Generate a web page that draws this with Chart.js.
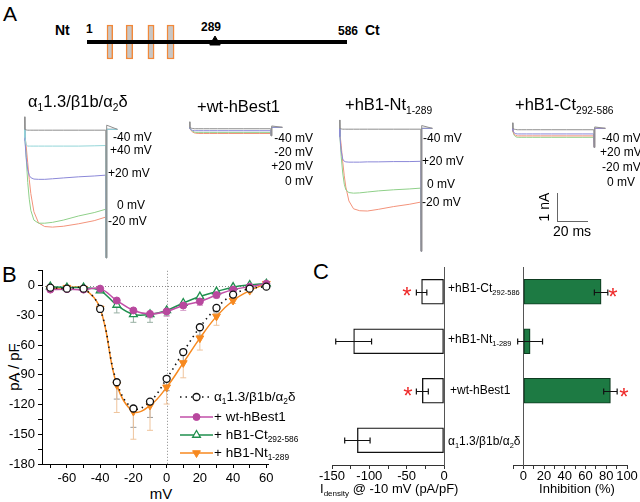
<!DOCTYPE html>
<html>
<head>
<meta charset="utf-8">
<script src="https://cdn.jsdelivr.net/npm/chart.js@4.4.0/dist/chart.umd.min.js"></script>
<style>
  html, body { margin: 0; padding: 0; background: #fff; overflow: hidden; }
  #fig { position: relative; width: 640px; height: 502px; overflow: hidden;
         font-family: "Liberation Sans", Arial, Helvetica, sans-serif; color: #000; }
  #fig canvas { position: absolute; }
  .t { position: absolute; white-space: nowrap; line-height: 1; }
  .t sub { font-size: 0.62em; vertical-align: -0.35em; line-height: 0; }
  .bar { position: absolute; background: #666; }
</style>
</head>
<body>
<div id="fig"></div>
<script>
// ---- panel A: protein diagram (residues) ----
const protLen = [1, 586];
const tmStart = [46, 89, 138, 181];
const tmEnd = [59, 104, 152, 197];
const cleaveSite = 289;

// ---- panel A: current traces (time in ms, current in nA) ----
const traceT = [0, 0.2, 1, 2, 3, 4, 6, 9, 13, 18, 25, 35, 45, 52.5, 52.7, 53.1, 60];
// alpha1 1.3 / beta1b / alpha2delta
const ctrlM40 = [0.45, 0, -0.02, -0.03, -0.03, -0.03, -0.03, -0.03, -0.03, -0.03, -0.03, -0.03, -0.03, -0.03, -4.6, 0.15, 0];
const ctrlP40 = [0, -0.3, -0.55, -0.6, -0.6, -0.6, -0.6, -0.6, -0.6, -0.6, -0.6, -0.6, -0.59, -0.58, -4.6, 0, 0];
const ctrlP20 = [0, -0.4, -1.0, -1.45, -1.65, -1.73, -1.78, -1.79, -1.79, -1.77, -1.74, -1.7, -1.67, -1.64, -4.6, 0, 0];
const ctrlZ0 = [0, -0.3, -1.0, -1.9, -2.5, -2.9, -3.25, -3.36, -3.36, -3.33, -3.25, -3.1, -2.98, -2.86, -4.6, 0, 0];
const ctrlM20 = [0, -0.2, -0.6, -1.2, -1.8, -2.3, -2.95, -3.35, -3.48, -3.5, -3.47, -3.38, -3.27, -3.14, -4.6, 0, 0];
// + wt-hBest1
const wtM40 = [0.2, 0, -0.03, -0.04, -0.05, -0.05, -0.05, -0.05, -0.05, -0.05, -0.05, -0.05, -0.05, -0.05, -0.3, 0.05, 0];
const wtM20 = [0, -0.05, -0.12, -0.17, -0.2, -0.21, -0.22, -0.22, -0.22, -0.22, -0.22, -0.22, -0.22, -0.22, -0.3, 0, 0];
const wtP20 = [0, -0.04, -0.09, -0.11, -0.12, -0.12, -0.12, -0.12, -0.12, -0.12, -0.12, -0.12, -0.12, -0.12, -0.3, 0, 0];
const wtZ0 = [0, -0.05, -0.1, -0.14, -0.17, -0.18, -0.18, -0.18, -0.18, -0.18, -0.18, -0.18, -0.18, -0.18, -0.3, 0, 0];
// + hB1-Nt 1-289
const ntM40 = [0.3, 0, -0.02, -0.03, -0.03, -0.03, -0.03, -0.03, -0.03, -0.03, -0.03, -0.03, -0.03, -0.03, -4.4, 0.1, 0];
const ntP20 = [0, -0.3, -0.8, -1.1, -1.18, -1.2, -1.21, -1.21, -1.21, -1.2, -1.2, -1.19, -1.19, -1.18, -4.4, 0, 0];
const ntZ0 = [0, -0.3, -1.0, -1.6, -2.0, -2.2, -2.3, -2.32, -2.31, -2.28, -2.24, -2.2, -2.17, -2.14, -4.4, 0, 0];
const ntM20 = [0, -0.2, -0.6, -1.2, -1.7, -2.1, -2.6, -2.88, -2.95, -2.96, -2.9, -2.8, -2.72, -2.64, -4.4, 0, 0];
// + hB1-Ct 292-586
const ctM40 = [0.2, 0, -0.03, -0.04, -0.05, -0.05, -0.05, -0.05, -0.05, -0.05, -0.05, -0.05, -0.05, -0.05, -0.68, 0.05, 0];
const ctP20 = [0, -0.08, -0.16, -0.19, -0.2, -0.2, -0.2, -0.2, -0.2, -0.2, -0.2, -0.2, -0.2, -0.2, -0.68, 0, 0];
const ctM20 = [0, -0.1, -0.21, -0.25, -0.27, -0.27, -0.27, -0.27, -0.27, -0.27, -0.27, -0.27, -0.27, -0.27, -0.68, 0, 0];
const ctZ0 = [0, -0.12, -0.25, -0.3, -0.32, -0.32, -0.32, -0.32, -0.32, -0.32, -0.32, -0.32, -0.32, -0.32, -0.68, 0, 0];

// ---- panel B: I-V curves (pA/pF) ----
const mV = [-70, -60, -50, -40, -30, -20, -10, 0, 10, 20, 30, 40, 50, 60];
const ctrlDens = [-2, -3, -3, -23.5, -97.5, -124, -117, -94, -67, -42, -22.5, -9, -3, -1];
const ctrlErr = [1, 1, 1, 2, 17, 19, 16, 12, 10, 8, 5, 3, 2, 1];
const wtDens = [-4, -3.5, -4, -3, -15, -25, -28.5, -26, -20, -16, -9.5, -4, -1, 2];
const wtErr = [1, 1, 1, 1, 3, 3, 4, 5, 5, 4, 3, 2, 1, 1];
const ctDens = [-1, -2, -2, -5, -19.5, -29, -29, -25, -17.5, -11, -6, -1.5, 0.7, 2];
const ctErr = [1, 1, 1, 2, 8, 8, 8, 5, 4, 3, 3, 2, 1, 1];
const ntDens = [-3, -2, -3, -23, -100, -127, -121, -102.5, -78, -53, -31, -15, -5, 2];
const ntErr = [1, 1, 1, 2, 28, 28, 25, 17, 15, 12, 9, 3, 2, 1];
const bXTicks = [-70, -60, -50, -40, -30, -20, -10, 0, 10, 20, 30, 40, 50, 60];
const bYTicks = [-180, -165, -150, -135, -120, -105, -90, -75, -60, -45, -30, -15, 0, 15];

// ---- panel C: peak density at -10 mV and inhibition ----
const groups = ['+hB1-Ct292-586', '+hB1-Nt1-289', '+wt-hBest1', 'a1 1.3/b1b/a2d'];
const peakDens = [-30, -121, -29, -116];
const peakErr = [7, 24, 8, 17];
const inhib = [75, 6.5, 84, 0];
const inhibErr = [6.5, 12, 6.5, 0];
const densTicks = [-150, -125, -100, -75, -50, -25, 0];
const inhibTicks = [-10, 0, 10, 20, 30, 40, 50, 60, 70, 80, 90, 100];

// ---------------------------------------------------------------
const FONT = '"Liberation Sans", Arial, Helvetica, sans-serif';
Chart.defaults.font.family = FONT;
Chart.defaults.color = '#000';
Chart.defaults.animation = false;
Chart.defaults.responsive = false;
Chart.defaults.layout.autoPadding = false;
Chart.defaults.plugins.legend.display = false;
Chart.defaults.plugins.tooltip.enabled = false;

const fig = document.getElementById('fig');

function canvasAt(left, top, w, h) {
  const c = document.createElement('canvas');
  c.width = Math.round(w);
  c.height = Math.round(h);
  c.style.left = left + 'px';
  c.style.top = top + 'px';
  fig.appendChild(c);
  return c;
}

// y is the vertical centre of the capitals
function text(html, x, y, size, opt = {}) {
  const d = document.createElement('div');
  d.className = 't';
  d.innerHTML = html;
  d.style.fontSize = size + 'px';
  d.style.left = x + 'px';
  d.style.top = (y - 0.49 * size) + 'px';
  if (opt.bold) d.style.fontWeight = 'bold';
  if (opt.color) d.style.color = opt.color;
  if (opt.align === 'right') d.style.transform = 'translateX(-100%)';
  if (opt.align === 'center') d.style.transform = 'translateX(-50%)';
  if (opt.rotate) {
    d.style.top = y + 'px';
    d.style.transform = 'translate(-50%,-50%) rotate(-90deg)';
  }
  fig.appendChild(d);
  return d;
}

function star(cx, cy) {
  const s = 24;
  const d = text('*', cx - 0.195 * s, 0, s, {color: '#ee2a2a'});
  d.style.top = (cy - 0.3 * s) + 'px';
}

const fixedTicks = arr => s => { s.ticks = arr.map(v => ({value: v})); };

const CTRL_HTML = '&alpha;<sub>1</sub>1.3/&beta;1b/&alpha;<sub>2</sub>&delta;';

// ---------------- panel A : diagram ----------------
text('A', 3, 13, 21);
text('Nt', 55, 30, 14, {bold: true});
text('1', 86, 29, 12, {bold: true});
text('289', 211, 27, 12, {bold: true, align: 'center'});
text('586', 338, 31, 12, {bold: true});
text('Ct', 365, 30, 14, {bold: true});

new Chart(canvasAt(87, 22, 260, 40), {
  type: 'bar',
  data: {
    labels: ['hBest1'],
    datasets: [
      ...tmStart.map((s, i) => ({
        indexAxis: 'y', data: [[s, tmEnd[i]]], backgroundColor: '#c9c6c4',
        borderColor: '#f2893a', borderWidth: 1.5, borderSkipped: false,
        barThickness: 34, grouped: false, clip: false, order: 2
      })),
      { indexAxis: 'y', data: [protLen], backgroundColor: '#000', barThickness: 3.5,
        grouped: false, clip: false, order: 1 },
      { type: 'scatter', data: [{x: cleaveSite, y: 'hBest1'}], pointStyle: 'triangle',
        pointRadius: 6, backgroundColor: '#000', borderColor: '#000', clip: false, order: 0 }
    ]
  },
  options: {
    layout: {padding: 0},
    scales: {
      x: {type: 'linear', display: false, offset: false, min: protLen[0], max: protLen[1]},
      y: {type: 'category', display: false, offset: true}
    }
  }
});

// ---------------- panel A : traces ----------------
const PX_MS = 1.55, PX_NA = 28;
const T_MIN = -3, T_MAX = 63, I_MIN = -5, I_MAX = 0.8;
const C_M40 = '#8e8e8e', C_P40 = '#93d5d8', C_P20 = '#8b88d8', C_Z0 = '#8fd089', C_M20 = '#f3937b';

function traceChart(x0, y0, series) {
  const c = canvasAt(x0 + T_MIN * PX_MS, y0 - I_MAX * PX_NA,
    (T_MAX - T_MIN) * PX_MS, (I_MAX - I_MIN) * PX_NA);
  new Chart(c, {
    type: 'scatter',
    data: {
      datasets: series.map(s => ({
        data: traceT.map((t, i) => ({x: t, y: s[0][i]})),
        showLine: true, borderColor: s[1], borderWidth: 1, pointRadius: 0, tension: 0
      }))
    },
    options: {
      layout: {padding: 0},
      scales: {
        x: {display: false, min: T_MIN, max: T_MAX},
        y: {display: false, min: I_MIN, max: I_MAX}
      }
    }
  });
}

traceChart(25, 129, [[ctrlM40, C_M40], [ctrlP40, C_P40], [ctrlP20, C_P20], [ctrlZ0, C_Z0], [ctrlM20, C_M20]]);
traceChart(190, 127, [[wtM40, C_M40], [wtP20, C_P20], [wtZ0, C_Z0], [wtM20, C_M20]]);
traceChart(340, 128, [[ntM40, C_M40], [ntP20, C_P20], [ntZ0, C_Z0], [ntM20, C_M20]]);
traceChart(513, 128, [[ctM40, C_M40], [ctP20, C_P20], [ctM20, C_M20], [ctZ0, C_Z0]]);

text(CTRL_HTML, 28, 101.5, 16.5);
text('+wt-hBest1', 197, 106, 16.5);
text('+hB1-Nt<sub>1-289</sub>', 345, 104.5, 16.5);
text('+hB1-Ct<sub>292-586</sub>', 515, 104.5, 16.5);

text('-40 mV', 113, 137, 12);
text('+40 mV', 110, 150, 12);
text('+20 mV', 108, 173, 12);
text('0 mV', 117, 205, 12);
text('-20 mV', 108, 221, 12);

text('-40 mV', 313, 138, 12, {align: 'right'});
text('-20 mV', 313, 152, 12, {align: 'right'});
text('+20 mV', 313, 166, 12, {align: 'right'});
text('0 mV', 313, 181, 12, {align: 'right'});

text('-40 mV', 423, 138, 12);
text('+20 mV', 422, 161, 12);
text('0 mV', 427, 184, 12);
text('-20 mV', 422, 202, 12);

text('-40 mV', 602, 138, 12);
text('+20 mV', 600, 152, 12);
text('-20 mV', 602, 167, 12);
text('0 mV', 607, 182, 12);

// scale bar: 1 nA / 20 ms
(function () {
  const v = document.createElement('div');
  v.className = 'bar';
  v.style.left = '557px'; v.style.top = (221 - PX_NA) + 'px';
  v.style.width = '1px'; v.style.height = PX_NA + 'px';
  fig.appendChild(v);
  const h = document.createElement('div');
  h.className = 'bar';
  h.style.left = '557px'; h.style.top = '221px';
  h.style.width = (20 * PX_MS) + 'px'; h.style.height = '1px';
  fig.appendChild(h);
})();
text('1 nA', 544, 207, 14, {rotate: true});
text('20 ms', 553, 231, 14);

// ---------------- panel B ----------------
text('B', 2, 275, 22);
text('pA / pF', 13, 367, 15, {rotate: true});
text('mV', 161, 493, 15, {align: 'center'});

const B_TOP = 260;
const xy = vals => mV.map((x, i) => ({x: x, y: vals[i]}));

const zeroLines = {
  id: 'zeroLines',
  beforeDatasetsDraw(chart) {
    const {ctx, chartArea: a, scales: {x, y}} = chart;
    const px = Math.round(x.getPixelForValue(0)) + 0.5;
    const py = Math.round(y.getPixelForValue(0)) + 0.5;
    ctx.save();
    ctx.strokeStyle = '#888';
    ctx.lineWidth = 1;
    ctx.setLineDash([1, 2]);
    ctx.beginPath();
    ctx.moveTo(a.left, py); ctx.lineTo(a.right, py);
    ctx.moveTo(px, a.top); ctx.lineTo(px, a.bottom);
    ctx.stroke();
    ctx.restore();
  }
};

const vErr = {
  id: 'vErr',
  beforeDatasetsDraw(chart) {
    const ctx = chart.ctx, ys = chart.scales.y;
    chart.data.datasets.forEach((ds, i) => {
      const meta = chart.getDatasetMeta(i);
      ctx.save();
      ctx.strokeStyle = ds.errorColor;
      ctx.lineWidth = 1;
      meta.data.forEach((pt, j) => {
        const yEnd = ys.getPixelForValue(ds.data[j].y - ds.errors[j]);
        ctx.beginPath();
        ctx.moveTo(pt.x, pt.y); ctx.lineTo(pt.x, yEnd);
        ctx.moveTo(pt.x - 3, yEnd); ctx.lineTo(pt.x + 3, yEnd);
        ctx.stroke();
      });
      ctx.restore();
    });
  }
};

function marker(ctx, ds, x, y) {
  const r = ds.pointRadius;
  ctx.fillStyle = ds.pointBackgroundColor;
  ctx.strokeStyle = ds.pointBorderColor;
  ctx.lineWidth = ds.pointBorderWidth;
  ctx.beginPath();
  if (ds.pointStyle === 'circle') {
    ctx.arc(x, y, r, 0, Math.PI * 2);
  } else {
    const s = ds.pointRotation ? -1 : 1;
    ctx.moveTo(x, y - s * r);
    ctx.lineTo(x + r * 0.866, y + s * r / 2);
    ctx.lineTo(x - r * 0.866, y + s * r / 2);
    ctx.closePath();
  }
  ctx.fill();
  ctx.stroke();
}

const bLegend = {
  id: 'bLegend',
  afterDraw(chart) {
    const ctx = chart.ctx;
    const rows = [397, 417, 435, 453].map(y => y - B_TOP);
    chart.data.datasets.forEach((ds, i) => {
      const y = rows[i];
      ctx.save();
      ctx.strokeStyle = ds.borderColor;
      ctx.lineWidth = ds.borderWidth;
      ctx.setLineDash(ds.borderDash || []);
      ctx.beginPath();
      ctx.moveTo(180, y); ctx.lineTo(213, y);
      ctx.stroke();
      ctx.setLineDash([]);
      marker(ctx, ds, 196.5, y);
      ctx.restore();
    });
  }
};

new Chart(canvasAt(0, B_TOP, 280, 242), {
  type: 'scatter',
  data: {
    datasets: [
      { data: xy(ctrlDens), errors: ctrlErr, errorColor: '#9a9a9a',
        showLine: true, borderColor: '#111', borderWidth: 1.6, borderDash: [1.5, 4], tension: 0.4,
        pointStyle: 'circle', pointRadius: 3.5, pointBackgroundColor: '#fff',
        pointBorderColor: '#111', pointBorderWidth: 1.3, clip: false },
      { data: xy(wtDens), errors: wtErr, errorColor: '#d8a2cc',
        showLine: true, borderColor: '#c24fa8', borderWidth: 1.5, tension: 0.4,
        pointStyle: 'circle', pointRadius: 3.5, pointBackgroundColor: '#b8489e',
        pointBorderColor: '#b8489e', pointBorderWidth: 1, clip: false },
      { data: xy(ctDens), errors: ctErr, errorColor: '#98b0a4',
        showLine: true, borderColor: '#1f8f4e', borderWidth: 1.5, tension: 0.4,
        pointStyle: 'triangle', pointRadius: 4.5, pointBackgroundColor: '#fff',
        pointBorderColor: '#1f8f4e', pointBorderWidth: 1.3, clip: false },
      { data: xy(ntDens), errors: ntErr, errorColor: '#efc49c',
        showLine: true, borderColor: '#f7891f', borderWidth: 1.5, tension: 0.4,
        pointStyle: 'triangle', pointRotation: 180, pointRadius: 4.5, pointBackgroundColor: '#f7891f',
        pointBorderColor: '#f7891f', pointBorderWidth: 1, clip: false }
    ]
  },
  options: {
    layout: {padding: {top: 9, right: 12, left: 0, bottom: 0}},
    scales: {
      x: {
        type: 'linear', min: -75, max: 61,
        afterBuildTicks: fixedTicks(bXTicks),
        afterFit: s => { s.height = 38; },
        ticks: { autoSkip: false, maxRotation: 0, padding: 3, font: {size: 13},
                 callback: v => (v % 20 === 0 ? String(v) : '') },
        grid: { drawOnChartArea: false, tickLength: 4, color: '#000' },
        border: { color: '#000', width: 1 }
      },
      y: {
        type: 'linear', min: -180, max: 15,
        afterBuildTicks: fixedTicks(bYTicks),
        afterFit: s => { s.width = 42; },
        ticks: { autoSkip: false, padding: 3, font: {size: 13},
                 callback: v => (v % 30 === 0 ? String(v) : '') },
        grid: { drawOnChartArea: false, tickLength: 4, color: '#000' },
        border: { color: '#000', width: 1 }
      }
    }
  },
  plugins: [zeroLines, vErr, bLegend]
});

text(CTRL_HTML, 214, 397, 13.5);
text('+ wt-hBest1', 214, 417, 13.5);
text('+ hB1-Ct<sub>292-586</sub>', 214, 435, 13.5);
text('+ hB1-Nt<sub>1-289</sub>', 214, 453, 13.5);

// ---------------- panel C ----------------
text('C', 313, 272, 22);

const hErr = {
  id: 'hErr',
  afterDatasetsDraw(chart) {
    const ctx = chart.ctx, xs = chart.scales.x;
    chart.data.datasets.forEach((ds, i) => {
      chart.getDatasetMeta(i).data.forEach((bar, j) => {
        const e = ds.errors[j];
        if (!e) return;
        const v = ds.data[j];
        const x1 = xs.getPixelForValue(v - e), x2 = xs.getPixelForValue(v + e);
        const y = Math.round(bar.y) + 0.5;
        ctx.save();
        ctx.strokeStyle = '#111';
        ctx.lineWidth = 1.2;
        ctx.beginPath();
        ctx.moveTo(x1, y); ctx.lineTo(x2, y);
        ctx.moveTo(x1, y - 3); ctx.lineTo(x1, y + 3);
        ctx.moveTo(x2, y - 3); ctx.lineTo(x2, y + 3);
        ctx.stroke();
        ctx.restore();
      });
    });
  }
};

const cXAxis = (min, max, arr, every, h) => ({
  type: 'linear', min: min, max: max,
  afterBuildTicks: fixedTicks(arr),
  afterFit: s => { s.height = h; },
  ticks: { autoSkip: false, maxRotation: 0, padding: -0.5, font: {size: 13},
           callback: v => (v % every === 0 ? String(v) : '') },
  grid: { drawOnChartArea: false, tickLength: 4, color: '#333' },
  border: { color: '#333', width: 1 }
});

new Chart(canvasAt(315, 262, 145, 240), {
  type: 'bar',
  data: {
    labels: groups,
    datasets: [{ data: peakDens, errors: peakErr, backgroundColor: '#fff', borderColor: '#111',
                 borderWidth: 1.3, borderSkipped: false, barThickness: 25 }]
  },
  options: {
    indexAxis: 'y',
    layout: {padding: {top: 5, left: 17, right: 16, bottom: 0}},
    scales: {
      x: cXAxis(-150, 0, densTicks, 50, 37),
      y: { position: 'right', afterFit: s => { s.width = 0; },
           ticks: {display: false}, grid: {drawOnChartArea: false, drawTicks: false},
           border: {color: '#555', width: 1} }
    }
  },
  plugins: [hErr]
});

new Chart(canvasAt(500, 262, 140, 240), {
  type: 'bar',
  data: {
    labels: groups,
    datasets: [{ data: inhib, errors: inhibErr, backgroundColor: '#1d7a43', borderColor: '#0e3b20',
                 borderWidth: 1.2, borderSkipped: false, barThickness: 25 }]
  },
  options: {
    indexAxis: 'y',
    layout: {padding: {top: 5, left: 13, right: 13, bottom: 0}},
    scales: {
      x: cXAxis(-10, 100, inhibTicks, 20, 37),
      y: { position: {x: 0}, afterFit: s => { s.width = 0; },
           ticks: {display: false}, grid: {drawOnChartArea: false, drawTicks: false},
           border: {color: '#555', width: 1} }
    }
  },
  plugins: [hErr]
});

text('+hB1-Ct<sub>292-586</sub>', 448, 288, 12);
text('+hB1-Nt<sub>1-289</sub>', 448, 339, 12);
text('+wt-hBest1', 450, 390, 12);
text(CTRL_HTML, 448, 441, 12);

text('I<sub>density</sub> @ -10 mV (pA/pF)', 320, 488, 13);
text('Inhibition (%)', 577, 488, 13, {align: 'center'});

star(407, 291);
star(408, 391);
star(613, 292);
star(624, 392);
</script>
</body>
</html>
